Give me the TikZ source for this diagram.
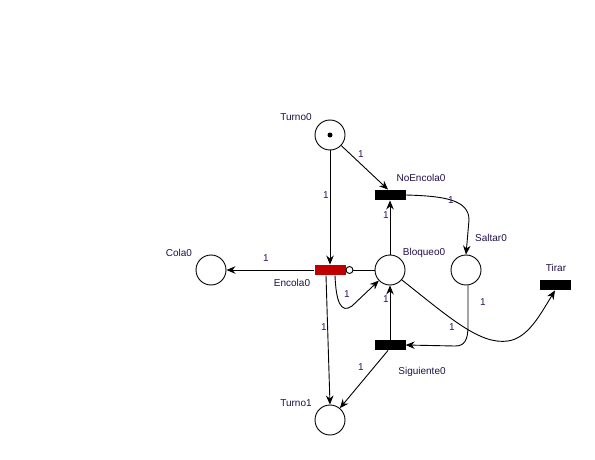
\documentclass[tikz,border=0pt]{standalone}
\usepackage{fontspec}
\setmainfont{Liberation Sans}
\usetikzlibrary{arrows.meta}
\definecolor{lblc}{HTML}{1F1048}
\definecolor{wc}{HTML}{33135E}
\definecolor{redt}{HTML}{C00000}
\tikzset{
  place/.style={circle, draw, line width=0.9pt, minimum size=30pt, inner sep=0pt, fill=white},
  trans/.style={rectangle, fill=black, minimum width=31pt, minimum height=10.5pt, inner sep=0pt},
  redtrans/.style={trans, fill=redt},
  pname/.style={font=\fontsize{10}{12}\selectfont, text=lblc, inner sep=0pt},
  wt/.style={font=\fontsize{10}{12}\selectfont, text=wc, inner sep=0pt},
  arc/.style={line width=0.9pt, -{Stealth[length=9pt, width=7.5pt, inset=3pt]}},
  plain/.style={line width=0.9pt},
  inhib/.style={circle, draw, line width=0.9pt, fill=white, minimum size=7pt, inner sep=0pt}
}
\begin{document}
\begin{tikzpicture}[x=1pt, y=-1pt]
\useasboundingbox (0,0) rectangle (595,460);
% places
\node[place] (Turno0) at (330,135) {};
\node[place] (Cola0) at (211,270) {};
\node[place] (Bloqueo0) at (390,270) {};
\node[place] (Saltar0) at (466,270) {};
\node[place] (Turno1) at (330,420) {};
\fill (Turno0.center) circle (2.5pt);
% transitions
\node[trans] (NoEncola0) at (390,195) {};
\node[redtrans] (Encola0) at (330,270) {};
\node[trans] (Siguiente0) at (390,345) {};
\node[trans] (Tirar) at (555,285) {};
\node[inhib] (inh) at (349.5,270) {};
% names
\node[pname] (lTurno0) at (296,117) {Turno0};
\node[pname] (lNoEncola0) at (421,178) {NoEncola0};
\node[pname] (lSaltar0) at (491,238) {Saltar0};
\node[pname] (lBloqueo0) at (424,253) {Bloqueo0};
\node[pname] (lEncola0) at (292,283) {Encola0};
\node[pname] (lTirar) at (556,268) {Tirar};
\node[pname] (lSiguiente0) at (422,372) {Siguiente0};
\node[pname] (lTurno1) at (296,403) {Turno1};
\node[pname] (lCola0) at (179,253) {Cola0};
% arcs
\draw[arc] (Turno0) -- (Encola0.north);
\draw[arc] (Turno0) -- ([xshift=-2pt]NoEncola0.north);
\draw[arc] (Bloqueo0) -- (NoEncola0.south);
\draw[arc] (NoEncola0.east) .. controls (445,196) and (469,200) .. (469,220) -- (Saltar0.north);
\draw[arc] (Encola0.west) -- (Cola0.east);
\draw[plain] (Bloqueo0.west) -- (inh.east);
\draw[arc] ([xshift=5pt]Encola0.south) .. controls (336,302) and (341,314) .. (352,306) -- (Bloqueo0);
\draw[arc] ([xshift=-4pt]Encola0.south) -- (Turno1.north);
\draw[arc] (Siguiente0.north) -- (Bloqueo0.south);
\draw[arc] ([xshift=2pt]Saltar0.south) -- (468,326) .. controls (468,341) and (464,346) .. (455,346) -- (Siguiente0.east);
\draw[arc] ([xshift=-2pt]Siguiente0.south) -- (Turno1);
\draw[arc] (Bloqueo0.-40) .. controls (450,318) and (480,345) .. (508,341) .. controls (528,338) and (540,315) .. (Tirar.south);
% weights
\node[wt] (w1) at (326,195) {1};
\node[wt] (w2) at (361,154) {1};
\node[wt] (w3) at (386,215) {1};
\node[wt] (w4) at (451,200) {1};
\node[wt] (w5) at (266,258) {1};
\node[wt] (w6) at (347,294) {1};
\node[wt] (w7) at (324,327) {1};
\node[wt] (w8) at (386,299) {1};
\node[wt] (w9) at (452,327) {1};
\node[wt] (w10) at (361,367) {1};
\node[wt] (w11) at (483,302) {1};
\end{tikzpicture}
\end{document}
